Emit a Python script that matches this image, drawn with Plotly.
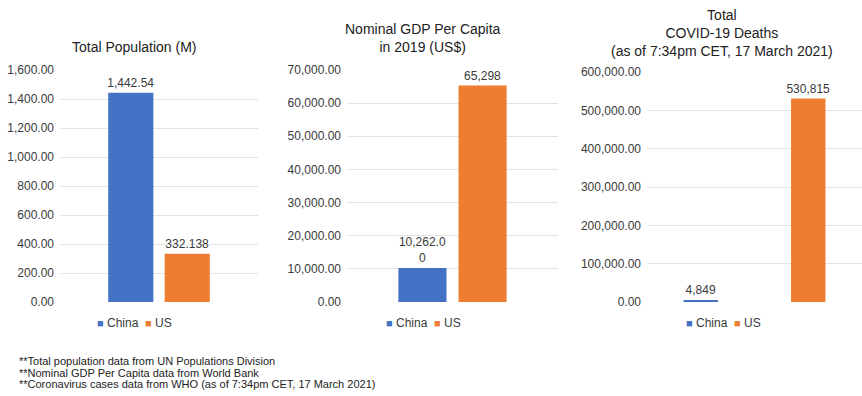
import plotly.graph_objects as go

# ---- data ----
countries = ["China", "US"]
population_m = [1442.54, 332.138]
population_labels = ["1,442.54", "332.138"]
gdp_per_capita = [10262.00, 65298]
gdp_labels = ["10,262.0<br>0", "65,298"]
covid_deaths = [4849, 530815]
death_labels = ["4,849", "530,815"]

titles = ["Total Population (M)",
          "Nominal GDP Per Capita<br>in 2019 (US$)",
          "Total<br>COVID-19 Deaths<br>(as of 7:34pm CET, 17 March 2021)"]
footnotes = ["**Total population data from UN Populations Division",
             "**Nominal GDP Per Capita data from World Bank",
             "**Coronavirus cases data from WHO (as of 7:34pm CET, 17 March 2021)"]

colors = ["#4472C4", "#ED7D31"]
FONT = "Liberation Sans, Arial, Helvetica, sans-serif"
TXT = "#3a3a3a"
W, H = 862, 396

def px_x(v):
    return v / W

def px_y(v):
    return 1 - v / H

fig = go.Figure()

# panel 1 & 2 : grouped bars in one category
for i, c in enumerate(countries):
    fig.add_trace(go.Bar(x=["Population"], y=[population_m[i]], name=c,
                         marker_color=colors[i], text=[population_labels[i]],
                         textposition="outside", xaxis="x", yaxis="y",
                         showlegend=False, cliponaxis=False))
for i, c in enumerate(countries):
    fig.add_trace(go.Bar(x=["GDP"], y=[gdp_per_capita[i]], name=c,
                         marker_color=colors[i], text=[gdp_labels[i]],
                         textposition="outside", xaxis="x2", yaxis="y2",
                         showlegend=False, cliponaxis=False))
# panel 3 : one bar per category
for i, c in enumerate(countries):
    fig.add_trace(go.Bar(x=[c], y=[covid_deaths[i]], name=c,
                         marker_color=colors[i], text=[death_labels[i]],
                         textposition="outside", xaxis="x3", yaxis="y3",
                         width=0.32, offset=-0.16,
                         showlegend=False, cliponaxis=False))

ydom12 = [px_y(302), px_y(70)]
ydom3 = [px_y(302), px_y(72)]

common_y = dict(showgrid=True, gridcolor="#e3e3e3", gridwidth=1, zeroline=False,
                showline=False, ticks="", tickformat=",.2f", automargin=False,
                tickfont=dict(size=12, color=TXT, family=FONT),
                ticklabelstandoff=5)
common_x = dict(showticklabels=False, showgrid=False, zeroline=False,
                showline=False, ticks="", automargin=False)

fig.update_layout(
    width=W, height=H,
    margin=dict(l=0, r=0, t=0, b=0, pad=0),
    paper_bgcolor="white", plot_bgcolor="white",
    font=dict(family=FONT, size=12, color=TXT),
    barmode="group", bargap=0.43, bargroupgap=0.2,
    xaxis=dict(domain=[px_x(60), px_x(258)], anchor="y", **common_x),
    xaxis2=dict(domain=[px_x(347), px_x(558)], anchor="y2", **common_x),
    xaxis3=dict(domain=[px_x(647), 1.0], anchor="y3",
                range=[-0.5, 1.5], **common_x),
    yaxis=dict(domain=ydom12, anchor="x", range=[0, 1600], dtick=200, **common_y),
    yaxis2=dict(domain=ydom12, anchor="x2", range=[0, 70000], dtick=10000, **common_y),
    yaxis3=dict(domain=ydom3, anchor="x3", range=[0, 600000], dtick=100000, **common_y),
    showlegend=False,
)

anns = []
# titles
title_pos = [(134, 47), (423, 38), (722, 33)]
for t, (cx, cy) in zip(titles, title_pos):
    anns.append(dict(text=t, x=px_x(cx), y=px_y(cy), xref="paper", yref="paper",
                     xanchor="center", yanchor="middle", showarrow=False,
                     font=dict(size=14, color="#222222", family=FONT)))
# legends
legend_pos = [134, 423, 723]
leg_text = "  ".join(
    f"<span style='color:{col}; font-size:11px'>■</span> {c}"
    for c, col in zip(countries, colors))
for cx in legend_pos:
    anns.append(dict(text=leg_text, x=px_x(cx), y=px_y(323), xref="paper",
                     yref="paper", xanchor="center", yanchor="middle",
                     showarrow=False, font=dict(size=12, color=TXT, family=FONT)))
# footnotes
for k, f in enumerate(footnotes):
    anns.append(dict(text=f, x=px_x(17), y=px_y(361 + 11.7 * k), xref="paper",
                     yref="paper", xanchor="left", yanchor="middle",
                     showarrow=False, font=dict(size=11, color="#222222", family=FONT)))

fig.update_layout(annotations=anns)
fig.update_traces(textfont=dict(size=12, color=TXT, family=FONT),
                  marker_line_width=0, constraintext="none")

fig.write_html("out.html", config={"displayModeBar": False},
               post_script="document.body.style.margin='0';")
